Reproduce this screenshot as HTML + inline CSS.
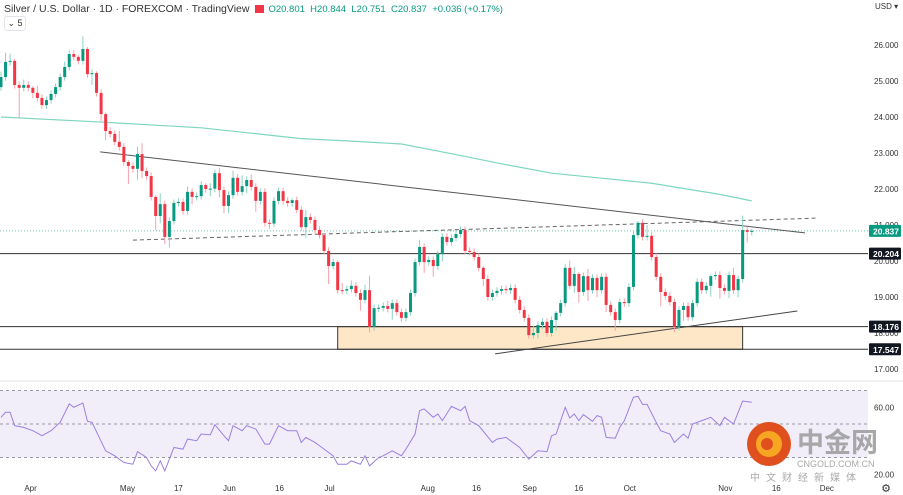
<!DOCTYPE html>
<html><head><meta charset="utf-8">
<style>
html,body{margin:0;padding:0;background:#fff;width:903px;height:495px;overflow:hidden;font-family:"Liberation Sans",sans-serif;}
svg{position:absolute;left:0;top:0;}
.hdr{position:absolute;left:4px;top:3px;font-size:10.5px;color:#333;white-space:nowrap;}
.ohlc{color:#089981;font-size:9.5px;margin-left:4px;}
.flag{display:inline-block;width:9px;height:8px;background:#f23645;margin-left:6px;vertical-align:-1px;}
.iv{position:absolute;left:4px;top:16px;width:20px;height:13px;border:1px solid #e0e3eb;border-radius:3px;font-size:9px;color:#333;text-align:center;line-height:13px;}
</style></head><body>
<div class="hdr">Silver / U.S. Dollar · 1D · FOREXCOM · TradingView<span class="flag"></span><span class="ohlc">O20.801 &nbsp;H20.844 &nbsp;L20.751 &nbsp;C20.837 &nbsp;+0.036 (+0.17%)</span></div>
<div class="iv">⌄ 5</div>
<svg id="chart" width="903" height="495"></svg>
<script>
const closes=[25.11,25.53,25.56,24.89,24.81,24.89,24.81,24.67,24.53,24.33,24.47,24.64,24.83,25.11,25.39,25.75,25.67,25.56,25.89,25.19,25.22,24.67,24.08,23.61,23.53,23.31,23.17,22.75,22.64,22.56,22.97,22.50,22.36,21.78,21.25,21.58,20.67,21.11,21.61,21.64,21.39,21.92,21.78,21.80,22.11,22.00,22.01,22.44,21.97,21.53,21.83,22.31,21.92,22.08,22.25,22.06,21.67,21.92,21.06,21.04,21.67,21.94,21.67,21.61,21.69,21.42,20.94,21.22,21.14,20.86,20.72,20.28,19.86,19.97,19.19,19.18,19.22,19.31,19.11,18.92,19.19,18.17,18.69,18.70,18.75,18.67,18.83,18.58,18.42,18.58,19.11,19.97,20.39,19.97,20.03,19.86,20.19,20.67,20.53,20.64,20.75,20.86,20.28,20.25,20.11,19.81,19.50,19.00,19.11,19.17,19.22,19.19,19.25,18.92,18.64,18.42,17.94,18.00,18.22,18.31,18.00,18.36,18.56,18.83,19.81,19.31,19.64,19.14,19.58,19.19,19.53,19.19,19.56,18.78,18.58,18.36,18.86,18.83,19.28,20.72,21.06,20.67,20.70,20.11,19.56,19.14,19.03,18.86,18.17,18.64,18.75,18.44,18.83,19.42,19.19,19.31,19.58,19.61,19.25,19.17,19.61,19.19,19.50,20.86,20.81,20.837];
const firstOpen=24.83;
const wickHi=[0.15,0.25,0.2,0.05,0.1,0.15,0.1,0.05,0.2,0.1,0.1,0.1,0.1,0.1,0.15,0.1,0.1,0.05,0.35,0.05,0.1,0.05,0.1,0.05,0.1,0.1,0.3,0.1,0.05,0.1,0.2,0.3,0.1,0.1,0.05,0.3,0.1,0.1,0.1,0.1,0.1,0.15,0.1,0.1,0.1,0.05,0.15,0.1,0.15,0.1,0.1,0.2,0.1,0.3,0.1,0.15,0.1,0.1,0.1,0.1,0.1,0.1,0.1,0.1,0.05,0.1,0.1,0.2,0.1,0.1,0.1,0.05,0.1,0.1,0.05,0.2,0.1,0.15,0.1,0.1,0.15,0.4,0.1,0.1,0.1,0.15,0.1,0.1,0.1,0.1,0.1,0.1,0.2,0.1,0.1,0.1,0.1,0.1,0.1,0.1,0.1,0.1,0.1,0.1,0.1,0.1,0.05,0.1,0.1,0.1,0.1,0.1,0.1,0.1,0.1,0.1,0.1,0.2,0.1,0.1,0.1,0.1,0.05,0.1,0.1,0.2,0.2,0.05,0.1,0.2,0.1,0.1,0.1,0.1,0.1,0.1,0.1,0.1,0.1,0.1,0.05,0.1,0.3,0.1,0.1,0.1,0.1,0.1,0.1,0.1,0.1,0.1,0.1,0.1,0.1,0.1,0.05,0.1,0.1,0.1,0.1,0.2,0.1,0.4,0.1,0.05,0.2,0.02];
const wickLo=[0.1,0.1,0.1,0.1,0.85,0.1,0.1,0.15,0.1,0.1,0.1,0.1,0.1,0.1,0.1,0.1,0.1,0.1,0.1,0.1,0.3,0.1,0.2,0.25,0.1,0.1,0.1,0.1,0.5,0.1,0.3,0.2,0.1,0.1,0.4,0.2,0.2,0.3,0.1,0.1,0.1,0.1,0.2,0.1,0.1,0.1,0.2,0.1,0.2,0.2,0.2,0.1,0.1,0.1,0.2,0.1,0.3,0.1,0.1,0.15,0.1,0.1,0.1,0.1,0.1,0.1,0.1,0.3,0.1,0.1,0.1,0.1,0.5,0.1,0.1,0.1,0.1,0.1,0.1,0.3,0.1,0.15,0.1,0.1,0.1,0.1,0.3,0.1,0.1,0.1,0.1,0.1,0.1,0.3,0.1,0.3,0.1,0.2,0.1,0.1,0.1,0.1,0.1,0.1,0.1,0.1,0.2,0.1,0.1,0.1,0.1,0.1,0.1,0.1,0.1,0.1,0.1,0.1,0.15,0.1,0.1,0.1,0.3,0.1,0.1,0.1,0.2,0.3,0.1,0.3,0.1,0.2,0.1,0.2,0.1,0.3,0.1,0.1,0.1,0.1,0.1,0.1,0.1,0.1,0.1,0.4,0.1,0.1,0.15,0.1,0.3,0.1,0.1,0.1,0.1,0.1,0.3,0.1,0.3,0.1,0.2,0.1,0.2,0.1,0.3,0.1,0.45,0.06];
const maIdx=[0,22,33,44,55,66,77,88,99,110,121,132,143,158,165];
const maVals=[24.0,23.86,23.78,23.7,23.55,23.4,23.33,23.25,22.98,22.7,22.44,22.3,22.16,21.85,21.67];
const rsiIdx=[0,1,2,3,5,7,9,11,13,15,16,18,19,20,23,25,27,29,30,32,33,34,35,36,38,40,41,43,44,46,47,49,50,51,53,54,56,58,59,61,63,65,66,67,69,70,72,73,74,76,77,79,80,81,83,84,86,88,89,91,92,93,95,96,97,99,101,102,103,105,108,109,111,114,116,118,120,121,122,124,125,126,127,128,130,131,132,133,135,136,137,139,140,141,142,144,145,147,148,150,151,152,154,156,158,159,161,163,165];
const rsiVals=[54,57,57,49,48,46,43,46,51,62,60,62.5,51.6,51,34,31,27,26,33.5,30,25,22,28,22,36,35,41,40,44,43.5,49.6,43,40,49,46,49,47,38,38,49,46,46,39,42,39,37,33,31,26,26,28,26,31,25,30,31,34,31,35,44,58,59,54,56,52,60.5,58,60.5,52,49,39,41,42,36,29,34,33.5,43,44,60,53.6,56,52,55.6,51.6,55,54,42,41.5,48,52,66,66.5,61.7,61.7,51,46,44,39,44,41.5,50,52,54,49,54,50,63.7,63];
const priceTicks=[26,25,24,23,22,21,20,19,18,17];
const rsiTicks=[60,20];
const dateLabels=["Apr","May","17","Jun","16","Jul","Aug","16","Sep","16","Oct","Nov","16","Dec"];
const dateIdx=[6.5,27.8,39,50.2,61.2,72.2,93.8,104.5,116.2,127,138.2,159.2,170.4,181.5];
const levels=[20.204,18.176,17.547];
const lastPrice=20.837;

const NS="http://www.w3.org/2000/svg";
const svg=document.getElementById('chart');
const PW=868;
const xOf=i=>1+i*4.55;
const yOf=p=>45+(26-p)*36;
const rY=r=>424-(r-50)*1.675;
function mk(tag,attrs,parent){const e=document.createElementNS(NS,tag);for(const k in attrs)e.setAttribute(k,attrs[k]);(parent||svg).appendChild(e);return e;}

// price axis ticks
priceTicks.forEach(p=>{const t=mk('text',{x:874,y:yOf(p)+3,'font-size':8,fill:'#333','font-family':'Liberation Sans'});t.textContent=p.toFixed(3);

});
const usd=mk('text',{x:875,y:9,'font-size':8,fill:'#333'});usd.textContent='USD ▾';



// support box
const bx=mk('rect',{x:xOf(74),y:yOf(levels[1]),width:xOf(163)-xOf(74),height:yOf(levels[2])-yOf(levels[1]),fill:'#fde7c6',stroke:'#333','stroke-width':1});



// horizontal levels
levels.forEach(l=>{const ln=mk('line',{x1:0,x2:PW,y1:yOf(l),y2:yOf(l),stroke:'#333','stroke-width':1});

});
const lp=mk('line',{x1:0,x2:PW,y1:yOf(lastPrice),y2:yOf(lastPrice),stroke:'#089981','stroke-width':1,'stroke-dasharray':'1 2',opacity:0.6});



// MA
let d='';maIdx.forEach((ix,k)=>{d+=(k?'L':'M')+xOf(ix)+','+yOf(maVals[k]);});
const ma=mk('path',{d:d,fill:'none',stroke:'#7fd6c0','stroke-width':1.2});



// trendlines
const t1=mk('line',{x1:xOf(21.8),y1:yOf(23.03),x2:xOf(176.7),y2:yOf(20.78),stroke:'#555','stroke-width':1});


const t2=mk('line',{x1:xOf(29),y1:yOf(20.58),x2:xOf(179),y2:yOf(21.19),stroke:'#666','stroke-width':1,'stroke-dasharray':'4 3'});


const t3=mk('line',{x1:xOf(108.6),y1:yOf(17.42),x2:xOf(175),y2:yOf(18.61),stroke:'#444','stroke-width':1});



// candles
closes.forEach((c,i)=>{
  const o=i?closes[i-1]:firstOpen;
  const up=c>=o;const col=up?'#089981':'#f23645';const wc=up?'#8cd3c2':'#f7a1a9';
  const hi=Math.max(o,c)+wickHi[i],lo=Math.min(o,c)-wickLo[i];
  const x=xOf(i);
  const w=mk('line',{x1:x,x2:x,y1:yOf(hi),y2:yOf(lo),stroke:wc,'stroke-width':1});
  
  
  const top=yOf(Math.max(o,c)),bh=Math.max(1,yOf(Math.min(o,c))-top);
  const b=mk('rect',{x:x-1.5,y:top,width:3,height:bh,fill:col});
  
  
});

// price badges
function badge(p,bg,label){const y=yOf(p);const r=mk('rect',{x:869,y:y-6,width:32,height:12,fill:bg,rx:1});


const t=mk('text',{x:873,y:y+3.5,'font-size':8.5,fill:'#fff','font-weight':'bold'});t.textContent=p.toFixed(3);}
levels.forEach(l=>badge(l,'#131722','level-badge'));
badge(lastPrice,'#089981','last-price-badge');

// RSI panel
const rb=mk('rect',{x:0,y:rY(70),width:PW,height:rY(30)-rY(70),fill:'#7e57c2','fill-opacity':0.1});


[70,50,30].forEach(v=>{const l=mk('line',{x1:0,x2:PW,y1:rY(v),y2:rY(v),stroke:'#9598a1','stroke-width':1,'stroke-dasharray':'3 3'});

});
let rd='';rsiIdx.forEach((ix,k)=>{rd+=(k?'L':'M')+xOf(ix)+','+rY(rsiVals[k]);});
const rl=mk('path',{d:rd,fill:'none',stroke:'#9c7fe0','stroke-width':1});


rsiTicks.forEach(v=>{const t=mk('text',{x:874,y:rY(v)+3,'font-size':8,fill:'#333'});t.textContent=v.toFixed(2);

});
const sep=mk('line',{x1:0,x2:903,y1:381,y2:381,stroke:'#e0e3eb','stroke-width':1});



// date axis
dateLabels.forEach((s,k)=>{const t=mk('text',{x:xOf(dateIdx[k]),y:491,'font-size':8,fill:'#333','text-anchor':'middle'});t.textContent=s;

});
const gear=mk('text',{x:886,y:492,'font-size':11,fill:'#333','text-anchor':'middle'});gear.textContent='⚙';



// watermark
const g=mk('g',{});


mk('circle',{cx:769,cy:444,r:22,fill:'#e0501e'},g);
mk('circle',{cx:769,cy:444,r:13,fill:'#f6a623'},g);
mk('circle',{cx:767,cy:444,r:6,fill:'#e0501e'},g);
const w1=mk('text',{x:797,y:452,'font-size':27,fill:'#9a9a9a','font-family':'Noto Sans CJK SC, sans-serif','font-weight':'bold',opacity:0.85},g);w1.textContent='中金网';
const w2=mk('text',{x:797,y:467,'font-size':9,fill:'#aaa'},g);w2.textContent='CNGOLD.COM.CN';
const w3=mk('text',{x:750,y:481,'font-size':10,fill:'#aaa','font-family':'Noto Sans CJK SC, sans-serif','letter-spacing':'6'},g);w3.textContent='中文财经新媒体';
</script>
</body></html>
